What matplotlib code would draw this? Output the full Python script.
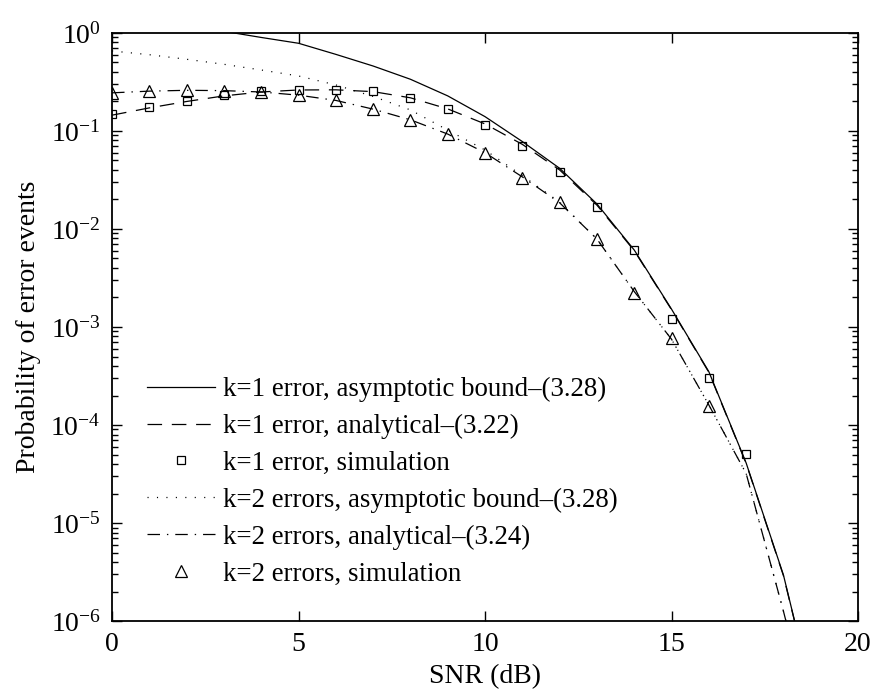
import matplotlib
matplotlib.use("Agg")
import matplotlib.pyplot as plt
from matplotlib.ticker import LogLocator, NullFormatter

plt.rcParams['font.family'] = ['Liberation Serif', 'DejaVu Serif']
plt.rcParams['mathtext.fontset'] = 'custom'
plt.rcParams['mathtext.rm'] = 'Liberation Serif'
plt.rcParams['mathtext.it'] = 'Liberation Serif:italic'
plt.rcParams['lines.scale_dashes'] = False

# SNR grid (dB)
snr_line = list(range(0, 20))
snr_sim1 = list(range(0, 18))
snr_sim2 = list(range(0, 17))

# k=1 error, asymptotic bound (3.28)
k1_bound = [1.6, 1.4, 1.2, 1.04, 0.9, 0.785, 0.605, 0.46, 0.337, 0.228,
            0.14, 0.078, 0.0416, 0.018, 0.0061, 0.00152, 3.5e-4, 4.1e-5,
            2.95e-6, 8e-8]
# k=1 error, analytical (3.22)
k1_anal = [0.145, 0.172, 0.2, 0.228, 0.25, 0.262, 0.263, 0.252, 0.218, 0.168,
           0.118, 0.073, 0.04, 0.0175, 0.006, 0.0015, 3.45e-4, 4.05e-5,
           2.9e-6, 8e-8]
# k=1 error, simulation
k1_sim = [0.149, 0.175, 0.204, 0.231, 0.256, 0.264, 0.264, 0.254, 0.216, 0.166,
          0.116, 0.0708, 0.0385, 0.0168, 0.00605, 0.00122, 3.04e-4, 5.06e-5]
# k=2 errors, asymptotic bound (3.28)
k2_bound = [0.655, 0.6, 0.539, 0.479, 0.419, 0.364, 0.295, 0.225, 0.164, 0.102,
            0.064, 0.035, 0.0188, 0.0079, 0.0023, 7.5e-4, 1.6e-4, 3.2e-5,
            1.26e-6, 4e-8]
# k=2 errors, analytical (3.24)
k2_anal = [0.245, 0.255, 0.26, 0.258, 0.25, 0.232, 0.205, 0.167, 0.13, 0.093,
           0.06, 0.034, 0.0185, 0.0079, 0.0023, 7.5e-4, 1.6e-4, 3.2e-5,
           1.26e-6, 4e-8]
# k=2 errors, simulation
k2_sim = [0.246, 0.256, 0.262, 0.258, 0.252, 0.233, 0.206, 0.166, 0.13, 0.0932,
          0.06, 0.0334, 0.0187, 0.00785, 0.00221, 7.78e-4, 1.56e-4]

fig = plt.figure(figsize=(8.76, 6.97), dpi=100)
ax = fig.add_axes([0.1279, 0.109, 0.8516, 0.8437])

lw = 0.9
ax.semilogy(snr_line, k1_bound, color='k', lw=lw, linestyle='-',
            label='k=1 error, asymptotic bound\u2013(3.28)')
ax.semilogy(snr_line, k1_anal, color='k', lw=lw, linestyle=(0, (10.5, 7)),
            label='k=1 error, analytical\u2013(3.22)')
ax.semilogy(snr_sim1, k1_sim, linestyle='none', marker='s', ms=6,
            mfc='none', mec='k', mew=0.9, label='k=1 error, simulation')
ax.semilogy(snr_line, k2_bound, color='k', lw=lw, linestyle=(0, (0.8, 6)),
            label='k=2 errors, asymptotic bound\u2013(3.28)')
ax.semilogy(snr_line, k2_anal, color='k', lw=lw, linestyle=(0, (9, 5, 1, 5)),
            label='k=2 errors, analytical\u2013(3.24)')
ax.semilogy(snr_sim2, k2_sim, linestyle='none', marker='^', ms=8,
            mfc='none', mec='k', mew=0.9, label='k=2 errors, simulation')

ax.set_xlim(0, 20)
ax.set_ylim(1e-6, 1)
ax.set_xticks([0, 5, 10, 15, 20])
ax.yaxis.set_major_locator(LogLocator(base=10, numticks=10))
ax.yaxis.set_minor_locator(LogLocator(base=10, subs=range(2, 10), numticks=20))
ax.yaxis.set_minor_formatter(NullFormatter())

ax.tick_params(which='both', direction='in', top=True, right=True,
               labelsize=20, width=1)
ax.tick_params(which='major', length=7, pad=8)
ax.tick_params(which='minor', length=4)
for sp in ax.spines.values():
    sp.set_linewidth(1.3)

ax.set_xlabel('SNR (dB)', fontsize=20, labelpad=5)
ax.set_ylabel('Probability of error events', fontsize=20, labelpad=7)

ax.legend(loc='lower left', bbox_to_anchor=(0.032, 0.04), frameon=False,
          fontsize=19.4, handlelength=2.53, handletextpad=0.29,
          labelspacing=0.44, borderaxespad=0)

fig.savefig('out.png', dpi=100)
